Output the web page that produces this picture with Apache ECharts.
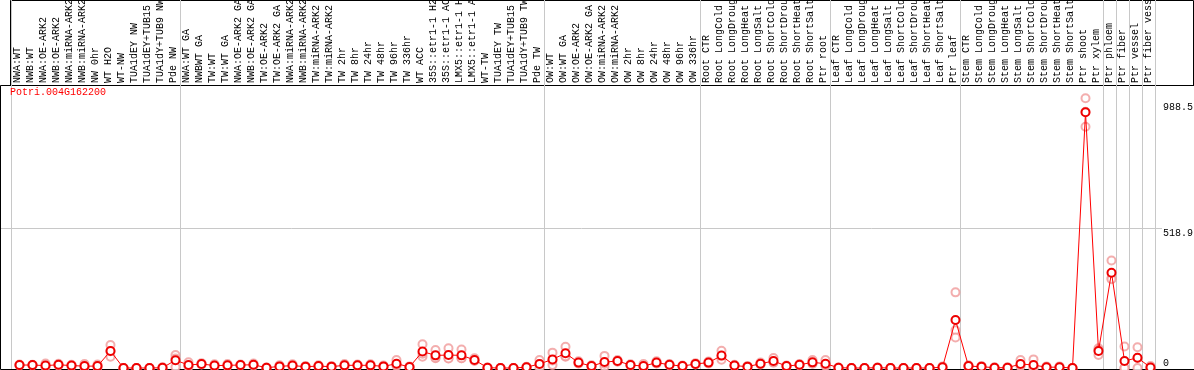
<!DOCTYPE html>
<html>
<head>
<meta charset="utf-8">
<script src="https://cdn.jsdelivr.net/npm/echarts@6/dist/echarts.min.js"></script>
<style>
  html, body { margin: 0; padding: 0; background: #fff; }
  #chart { width: 1194px; height: 370px; }
</style>
</head>
<body>
<div id="chart"></div>
<script>
// sample names, in plot order
const categories = [
    'NWA:WT', 'NWB:WT', 'NWA:OE-ARK2', 'NWB:OE-ARK2', 'NWA:miRNA-ARK2', 'NWB:miRNA-ARK2', 'NW 0hr',
    'WT H2O', 'WT-NW', 'TUA1dEY NW', 'TUA1dEY+TUB15 NW', 'TUA1dY+TUB9 NW', 'Pde NW',
    'NWA:WT GA', 'NWBWT GA', 'TW:WT', 'TW:WT GA', 'NWA:OE-ARK2 GA', 'NWB:OE-ARK2 GA', 'TW:OE-ARK2',
    'TW:OE-ARK2 GA', 'NWA:miRNA-ARK2 GA', 'NWB:miRNA-ARK2 GA', 'TW:miRNA-ARK2', 'TW:miRNA-ARK2 GA',
    'TW 2hr', 'TW 8hr', 'TW 24hr', 'TW 48hr', 'TW 96hr', 'TW 336hr', 'WT ACC',
    '35S::etr1-1 H2O', '35S::etr1-1 ACC', 'LMX5::etr1-1 H2O', 'LMX5::etr1-1 ACC', 'WT-TW',
    'TUA1dEY TW', 'TUA1dEY+TUB15 TW', 'TUA1dY+TUB9 TW', 'Pde TW',
    'OW:WT', 'OW:WT GA', 'OW:OE-ARK2', 'OW:OE-ARK2 GA', 'OW:miRNA-ARK2', 'OW:miRNA-ARK2 GA',
    'OW 2hr', 'OW 8hr', 'OW 24hr', 'OW 48hr', 'OW 96hr', 'OW 336hr',
    'Root CTR', 'Root LongCold', 'Root LongDrought', 'Root LongHeat', 'Root LongSalt',
    'Root ShortCold', 'Root ShortDrought', 'Root ShortHeat', 'Root ShortSalt', 'Ptr root',
    'Leaf CTR', 'Leaf LongCold', 'Leaf LongDrought', 'Leaf LongHeat', 'Leaf LongSalt',
    'Leaf ShortCold', 'Leaf ShortDrought', 'Leaf ShortHeat', 'Leaf ShortSalt', 'Ptr leaf',
    'Stem CTR', 'Stem LongCold', 'Stem LongDrought', 'Stem LongHeat', 'Stem LongSalt',
    'Stem ShortCold', 'Stem ShortDrought', 'Stem ShortHeat', 'Stem ShortSalt', 'Ptr shoot', 'Ptr xylem',
    'Ptr phloem', 'Ptr fiber', 'Ptr vessel', 'Ptr fiber vessel'
]

// how many samples sit in each experiment block (separators drawn between blocks)
const groupSizes = [13, 28, 12, 10, 10, 11, 1, 1, 1, 1]

const geneId = 'Potri.004G162200'

// mean expression per sample
const meanValues = [
    11, 11, 9, 12, 9, 7, 7, 63, 0, 0, 0, 1, 29,
    11, 15, 9, 10, 11, 12, 1, 6, 9, 5, 7, 5, 10, 10, 10, 6, 16, 4, 61, 47, 48, 47, 30, 1, 0, 0, 3, 15,
    32, 55, 20, 7, 22, 26, 11, 7, 20, 12, 7, 15,
    20, 46, 9, 5, 16, 26, 7, 12, 21, 16,
    1, 0, 0, 1, 0, 0, 0, 0, 3, 178,
    7, 5, 1, 1, 15, 11, 3, 3, 0, 950, 63,
    354, 26, 38, 2
]

// replicate values per sample
const rep1 = [
    13, 12, 17, 16, 12, 15, 13, 85, 0, 0, 0, 3, 48,
    21, 18, 14, 15, 13, 17, 2, 10, 14, 7, 10, 7, 15, 13, 14, 9, 30, 6, 88, 67, 73, 69, 36, 2, 0, 0, 5, 30,
    57, 79, 25, 10, 45, 30, 14, 15, 25, 15, 9, 18,
    24, 64, 12, 7, 20, 37, 9, 15, 30, 30,
    2, 0, 0, 2, 0, 0, 0, 0, 6, 281,
    10, 7, 3, 3, 30, 32, 6, 6, 0, 1002, 73,
    399, 80, 77, 7
]
const rep2 = [
    10, 10, 5, 10, 7, 3, 4, 42, 0, 0, 0, 0, 4,
    6, 13, 6, 7, 10, 9, 0, 4, 6, 4, 5, 4, 7, 8, 8, 4, 8, 3, 42, 36, 36, 36, 27, 0, 0, 0, 2, 0,
    11, 42, 17, 5, 5, 23, 9, 3, 17, 10, 5, 13,
    17, 43, 7, 4, 13, 20, 5, 10, 16, 8,
    0, 0, 0, 0, 0, 0, 0, 0, 1, 140,
    5, 4, 0, 0, 7, 0, 1, 1, 0, 896, 48,
    333, 0, 0, 0
]
const rep3 = [
    10, 11, 5, 10, 8, 3, 4, 62, 0, 0, 0, 0, 35,
    6, 14, 7, 8, 10, 10, 1, 4, 7, 4, 6, 4, 8, 9, 8, 5, 10, 3, 53, 38, 35, 36, 27, 1, 0, 0, 2, 15,
    28, 44, 18, 6, 16, 25, 10, 3, 18, 11, 7, 14,
    19, 31, 8, 4, 15, 21, 7, 11, 17, 10,
    1, 0, 0, 1, 0, 0, 0, 0, 2, 113,
    6, 4, 0, 0, 8, 1, 2, 2, 0, 952, 68,
    330, 0, 37, 0
]

// labelled values on the right-hand scale
const upperTickLabels = [518.9, 988.5]
const lowerTickLabels = [0]
const gridLineValues = [518.9]

const fontMono = '"Liberation Mono", "DejaVu Sans Mono", monospace'
const yMin = -3.7
const yMax = 1366.9

const groupStarts = new Set()
groupSizes.reduce((start, size) => {
    groupStarts.add(start)
    return start + size
}, 0)

const hiddenValueAxis = (gridIndex) => ({
    gridIndex,
    type: 'value',
    show: false,
})

const option = {
    animation: false,
    backgroundColor: '#fff',
    title: {
        text: geneId,
        left: 10,
        top: 87,
        padding: 0,
        textStyle: {
            color: '#ff0000',
            fontSize: 10,
            fontWeight: 'normal',
            fontFamily: fontMono,
        },
    },
    grid: [
        // category labels + block separators
        { left: 11, right: 39, top: 0, bottom: 1, outerBoundsMode: 'none' },
        // data
        { left: 13, right: 37, top: 0, bottom: 1, outerBoundsMode: 'none' },
        // plot frame
        {
            left: 0.5, right: -2, top: 85.5, bottom: 0.5, outerBoundsMode: 'none',
            show: true, borderColor: '#000', borderWidth: 1, backgroundColor: 'transparent',
        },
        // label box
        {
            left: 10.5, right: 0.5, top: 0.5, height: 85, outerBoundsMode: 'none',
            show: true, borderColor: '#000', borderWidth: 1, backgroundColor: 'transparent',
        },
        // value scale
        { left: 1, right: 32, top: 0, bottom: 1, outerBoundsMode: 'none' },
    ],
    xAxis: [
        {
            gridIndex: 0,
            type: 'category',
            data: categories,
            position: 'top',
            offset: -85,
            axisLine: { show: false },
            axisTick: { show: false },
            axisLabel: {
                interval: 0,
                rotate: 90,
                margin: 2,
                color: '#000',
                fontSize: 10,
                fontFamily: fontMono,
            },
            splitLine: {
                show: true,
                interval: (index) => groupStarts.has(index),
                lineStyle: { color: '#c8c8c8', width: 1 },
            },
        },
        {
            gridIndex: 1,
            type: 'category',
            data: categories,
            show: false,
        },
        hiddenValueAxis(2),
        hiddenValueAxis(3),
        hiddenValueAxis(4),
    ],
    yAxis: [
        { gridIndex: 0, type: 'value', min: yMin, max: yMax, show: false },
        { gridIndex: 1, type: 'value', min: yMin, max: yMax, show: false },
        hiddenValueAxis(2),
        hiddenValueAxis(3),
        {
            gridIndex: 4,
            type: 'value',
            min: yMin,
            max: yMax,
            position: 'right',
            axisLine: { show: false },
            axisTick: { show: false, customValues: gridLineValues },
            splitLine: { show: true, lineStyle: { color: '#c8c8c8', width: 1 } },
            axisLabel: {
                customValues: upperTickLabels,
                formatter: (v) => String(v),
                margin: 1,
                align: 'left',
                verticalAlign: 'top',
                color: '#000',
                fontSize: 10,
                fontFamily: fontMono,
            },
        },
        {
            gridIndex: 4,
            type: 'value',
            min: yMin,
            max: yMax,
            position: 'right',
            axisLine: { show: false },
            axisTick: { show: false },
            splitLine: { show: false },
            axisLabel: {
                customValues: lowerTickLabels,
                formatter: (v) => String(v),
                margin: 1,
                align: 'left',
                verticalAlign: 'bottom',
                color: '#000',
                fontSize: 10,
                fontFamily: fontMono,
            },
        },
    ],
    series: [
        ...[rep1, rep2, rep3].map((reps) => ({
            type: 'scatter',
            xAxisIndex: 1,
            yAxisIndex: 1,
            data: reps,
            symbol: 'emptyCircle',
            symbolSize: 8,
            itemStyle: { color: '#f09a9a', borderWidth: 1.3 },
            silent: true,
            z: 2,
        })),
        {
            type: 'line',
            xAxisIndex: 1,
            yAxisIndex: 1,
            data: meanValues,
            symbol: 'emptyCircle',
            symbolSize: 8,
            showAllSymbol: true,
            lineStyle: { color: '#ff0000', width: 1 },
            itemStyle: { color: '#ee0000', borderWidth: 2 },
            clip: false,
            silent: true,
            z: 3,
        },
    ],
}

const chart = echarts.init(document.getElementById('chart'))
chart.setOption(option)
</script>
</body>
</html>
